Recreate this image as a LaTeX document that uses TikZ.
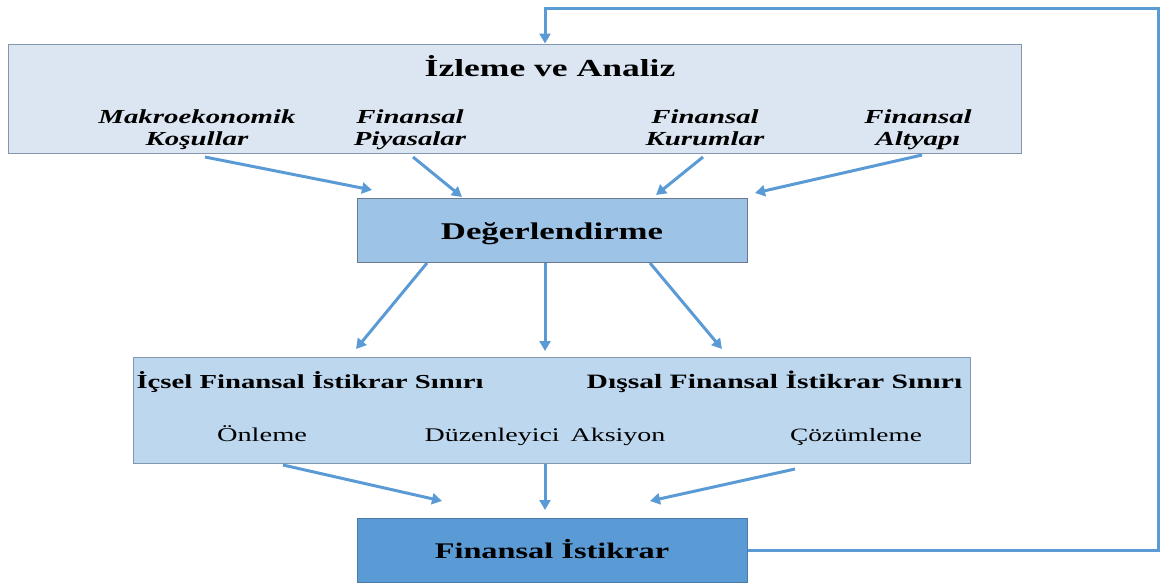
\documentclass[tikz,border=0pt]{standalone}
\usepackage{fontspec}
\setmainfont[FakeStretch=1.45]{Liberation Serif}
\usetikzlibrary{arrows.meta}
\definecolor{topfill}{HTML}{DCE6F2}
\definecolor{midfill}{HTML}{BDD7EE}
\definecolor{degfill}{HTML}{9DC3E6}
\definecolor{botfill}{HTML}{5B9BD5}
\definecolor{boxline}{HTML}{8497B0}
\definecolor{arrcol}{HTML}{5B9BD5}
\begin{document}
\begin{tikzpicture}[x=1pt,y=-1pt,
  box/.style={draw=boxline, line width=1pt, inner sep=0pt},
  txt/.style={inner sep=0pt, text=black, anchor=base},
  arr/.style={draw=arrcol, line width=3pt, -{Triangle[length=10pt,width=11pt]}},
  sub/.style={txt, align=center, font=\bfseries\itshape\fontsize{19.9}{22}\selectfont}]
\useasboundingbox (0,0) rectangle (1165,582);
% boxes
\node[box, fill=topfill, minimum width=1013pt, minimum height=109pt] (izle) at (514.5,98.5) {};
\node[box, fill=degfill, draw=boxline!80!black, minimum width=390pt, minimum height=64pt] (deg) at (552,230) {};
\node[box, fill=midfill, minimum width=837pt, minimum height=106pt] (mid) at (551.5,410) {};
\node[box, fill=botfill, draw=botfill!80!black, minimum width=390pt, minimum height=64pt] (fin) at (552,550) {};
% texts
\node[txt, font=\bfseries\fontsize{24.5}{28}\selectfont] (title) at (550,76) {İzleme ve Analiz};
\node[sub] (makro) at (197,145) {Makroekonomik\\Koşullar};
\node[sub] (piya) at (410,145) {Finansal\\Piyasalar};
\node[sub] (kuru) at (705,145) {Finansal\\Kurumlar};
\node[sub] (alty) at (918,145) {Finansal\\Altyapı};
\node[txt, font=\bfseries\fontsize{24}{28}\selectfont] (degt) at (552,239) {Değerlendirme};
\node[txt, font=\bfseries\fontsize{19.8}{24}\selectfont] (icsel) at (310,388) {İçsel Finansal İstikrar Sınırı};
\node[txt, font=\bfseries\fontsize{20.4}{24}\selectfont] (dissal) at (774.5,388) {Dışsal Finansal İstikrar Sınırı};
\node[txt, font=\fontsize{19.6}{23}\selectfont] (onl) at (262,441) {Önleme};
\node[txt, font=\fontsize{19.3}{23}\selectfont] (duz) at (545,441) {Düzenleyici\hspace{0.2em} Aksiyon};
\node[txt, font=\fontsize{18.8}{23}\selectfont] (coz) at (856,441) {Çözümleme};
\node[txt, font=\bfseries\fontsize{22.3}{26}\selectfont] (fint) at (552,558) {Finansal İstikrar};
% arrow end points
\coordinate (a1s) at (205,157); \coordinate (a1e) at (372,190);
\coordinate (a2s) at (413,157); \coordinate (a2e) at (462,197);
\coordinate (a3s) at (703,157); \coordinate (a3e) at (656,195);
\coordinate (a4s) at (922,155); \coordinate (a4e) at (755,193);
\coordinate (b1s) at (427,263); \coordinate (b1e) at (356,349);
\coordinate (b2s) at (545,263); \coordinate (b2e) at (545,351);
\coordinate (b3s) at (650,263); \coordinate (b3e) at (722,349);
\coordinate (c1s) at (283,465); \coordinate (c1e) at (442,501);
\coordinate (c2s) at (545,464); \coordinate (c2e) at (545,510);
\coordinate (c3s) at (795,469); \coordinate (c3e) at (650,501);
\coordinate (fbr) at (1158,550); \coordinate (fbt) at (1158,8); \coordinate (fbl) at (545,8);
% arrows
\draw[arr] (a1s) -- (a1e);
\draw[arr] (a2s) -- (a2e);
\draw[arr] (a3s) -- (a3e);
\draw[arr] (a4s) -- (a4e);
\draw[arr] (b1s) -- (b1e);
\draw[arr] (b2s) -- (b2e);
\draw[arr] (b3s) -- (b3e);
\draw[arr] (c1s) -- (c1e);
\draw[arr] (c2s) -- (c2e);
\draw[arr] (c3s) -- (c3e);
\draw[arr] (fin.east) -- (fbr) -- (fbt) -- (fbl) -- (fbl |- izle.north);
\end{tikzpicture}
\end{document}
